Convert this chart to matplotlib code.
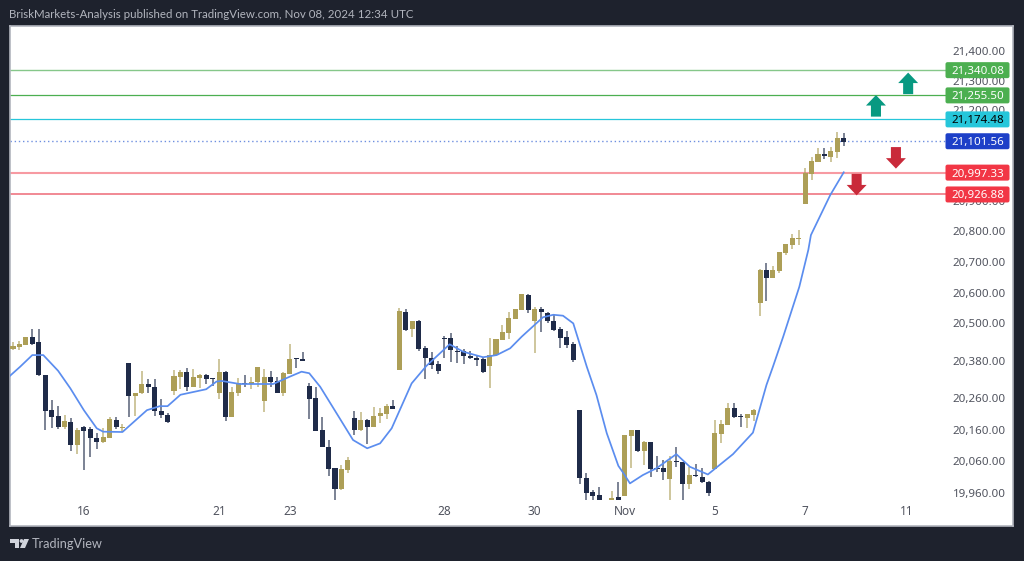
import numpy as np
import matplotlib
matplotlib.use("Agg")
import matplotlib.pyplot as plt
from matplotlib.patches import Polygon, Rectangle, FancyBboxPatch
from matplotlib.transforms import Affine2D

highs = [20446,20450,20463,20489,20489,20340,20259,20239,20211,20199,20168,20175,20170,20151,20167,20203,20203,20181,20380,20283,
20353,20326,20326,20261,20216,20355,20357,20362,20359,20344,20344,20329,20391,20352,20300,20329,20339,20333,20365,20359,
20352,20333,20349,20441,20394,20416,20313,20302,20205,20129,20038,20048,20073,20224,20221,20196,20236,20234,20245,20259,
20557,20555,20517,20519,20434,20416,20387,20467,20476,20436,20425,20419,20405,20398,20459,20458,20503,20544,20555,20603,
20603,20562,20560,20544,20535,20497,20484,20446,20226,20021,19967,19975,np.nan,19963,19994,20145,20161,20161,20125,20124,
20078,20063,20077,20105,20059,20040,20051,20039,19996,20193,20193,20248,20248,20213,20213,20230,20684,20703,20695,20741,
20766,20798,20811,21012,21049,21077,21077,21080,21131,21128]
lows = [20421,20421,20439,20438,20337,20161,20168,20164,20164,20094,20082,20032,20073,20099,20120,20135,20164,20156,20203,20208,
20279,20281,20208,20199,20185,20275,20296,20287,20300,20299,20311,20304,20262,20192,20203,20272,20302,20294,20302,20221,
20300,20282,20272,20345,20363,20385,20198,20159,20105,20013,19934,19967,20023,20145,20159,20116,20171,20183,20196,20229,
20357,20484,20465,20419,20326,20359,20344,20394,20384,20380,20376,20391,20370,20348,20297,20405,20454,20456,20523,20553,
20543,20413,20481,20508,20484,20429,20427,20381,19986,19934,19934,19934,np.nan,19935,19934,19947,20039,20089,20048,20010,
20026,19999,19934,20042,19934,19969,20010,19988,19947,20035,20120,20178,20202,20172,20168,20190,20533,20581,20657,20671,
20731,20750,20763,20895,20974,21034,21042,21034,21047,21085]
opens = [20425,20432,20439,20463,20448,20340,20226,20207,20170,20189,20114,20172,20164,20135,20122,20135,20194,20167,20378,20272,
20281,20311,20302,20222,20211,20287,20335,20350,20300,20332,20340,20329,20282,20350,20203,20281,20314,20310,20318,20257,
20333,20321,20282,20345,20394,20391,20306,20264,20160,20107,20038,19969,20033,20199,20161,20193,20171,20206,20215,20240,
20358,20544,20489,20517,20428,20394,20375,20460,20459,20419,20418,20402,20395,20391,20369,20405,20454,20477,20523,20553,
20601,20515,20555,20543,20516,20489,20463,20441,20225,20007,19960,19950,np.nan,19935,19944,19947,20143,20160,20094,20124,
20037,20038,20003,20061,20058,19986,20014,20010,19994,20035,20150,20178,20233,20206,20199,20211,20573,20681,20657,20677,
20736,20763,20782,20895,20993,21034,21058,21050,21065,21112]
closes = [20434,20441,20463,20441,20340,20224,20205,20172,20190,20114,20161,20158,20135,20122,20139,20196,20170,20172,20272,20283,
20312,20300,20222,20209,20188,20337,20350,20300,20334,20340,20328,20327,20350,20203,20284,20314,20312,20318,20365,20334,
20319,20282,20347,20393,20391,20386,20263,20159,20105,20036,19970,20034,20063,20161,20193,20171,20208,20217,20240,20231,
20548,20488,20517,20424,20395,20374,20353,20457,20421,20416,20401,20397,20389,20350,20405,20456,20479,20525,20554,20602,
20551,20555,20544,20516,20487,20461,20439,20388,20004,19958,19948,19934,np.nan,19941,19934,20145,20160,20094,20124,20035,
20034,20026,20061,20058,19986,20015,20012,19991,19957,20152,20180,20233,20204,20203,20213,20226,20682,20657,20681,20740,
20766,20785,20786,20998,21036,21059,21053,21069,21112,21099]

ma_bars = [-0.5,1.1,3,4.7,7,8.9,11,13,14,17,20.8,22.8,24,26,30,31.6,32.4,35.2,40.4,43,44.8,46,47.7,50.8,52.8,55,57,58.8,61.9,
64.2,67.8,69.9,73,75.1,77.2,79,82.3,83.9,85.4,87,89.1,90.6,92.2,94,94.8,95.8,97.8,99.9,103,105.1,107.9,111.8,114.9,117,118,
119.6,122.1,123.5,123.9,126.9,129]
ma_vals = [20337,20367,20405,20405,20354,20297,20226,20167,20156,20155,20226,20239,20239,20276,20294,20319,20321,20311,20311,
20335,20351,20346,20302,20197,20129,20102,20118,20167,20313,20370,20440,20416,20398,20405,20427,20465,20528,20536,20533,20508,
20367,20275,20151,20045,20021,19988,20015,20037,20083,20042,20017,20083,20153,20308,20367,20465,20627,20747,20795,20925,20999]

level_labels = ["21,340.08","21,255.50","21,174.48","21,101.56","20,997.33","20,926.88"]
level_marks = [21331,21249,21171,21100,20998,20927]
level_colors = ["#86C78A","#4CAF50","#26C6DA","#6E8FE0","#F79AA2","#EE6A76"]
level_widths = [1.0,0.9,0.9,1.0,1.5,1.1]
tag_colors = ["#4CAF50","#4CAF50","#26C6DA","#1E40C8","#F23645","#F23645"]
tag_text = ["white","white","black","white","white","white"]

ytick_labels = ["21,400.00","21,300.00","21,200.00","20,900.00","20,800.00","20,700.00","20,600.00","20,500.00",
                "20,380.00","20,260.00","20,160.00","20,060.00","19,960.00"]
ytick_marks = [21394,21296,21201,20906,20808,20707,20607,20509,20386,20265,20161,20061,19958]
xtick_bars = [11,32,43,67,81,95,109,123,138.8]
xtick_labels = ["16","21","23","28","30","Nov","5","7","11"]

up_arrows = [(134,21250),(139,21323)]
down_arrows = [(137.1,21011),(131,20924)]

BG = "#1E222D"
UP = "#AD9F57"
DOWN = "#1F2B49"
plt.rcParams["font.family"] = ["Noto Sans", "DejaVu Sans"]

W, H = 1024, 561
fig = plt.figure(figsize=(W/100, H/100), dpi=100, facecolor=BG)
L, R, T, B = 10, 1013, 26, 526
ax = fig.add_axes([L/W, 1-B/H, (R-L)/W, (B-T)/H], facecolor="white")
ax.set_xlim(-0.466, 155.28)
ax.set_ylim(19849.5, 21474.5)
for s in ax.spines.values():
    s.set_color("#B2B5BE")
    s.set_linewidth(1.2)
ax.tick_params(length=0)

# level lines
for i,(v,c,w) in enumerate(zip(level_marks, level_colors, level_widths)):
    ls = (0,(1,2)) if i==3 else "-"
    ax.plot([-0.466, 144.8],[v,v],color=c,lw=w,ls=ls,zorder=1)

# candles
for i,(h,l,o,c) in enumerate(zip(highs,lows,opens,closes)):
    if np.isnan(h):
        continue
    col = UP if c>=o else DOWN
    ax.plot([i,i],[l,h],color=col,lw=1.1,alpha=0.75,zorder=3,solid_capstyle="butt")
    top,bot = max(o,c),min(o,c)
    ax.add_patch(Rectangle((i-0.39,bot),0.78,max(top-bot,3.5),facecolor=col,edgecolor="none",zorder=4))

# moving average
ax.plot(ma_bars,ma_vals,color="#5B8DEF",lw=1.25,zorder=5,solid_joinstyle="round")

# arrows
hw, sw = 1.55, 0.78
def arrow(xc,tip,sgn,col):
    hh, tot = 34*sgn, 70*sgn
    pts = [(xc,tip),(xc+hw,tip-hh),(xc+sw,tip-hh),(xc+sw,tip-tot),(xc-sw,tip-tot),(xc-sw,tip-hh),(xc-hw,tip-hh)]
    ax.add_patch(Polygon(pts,closed=True,facecolor=col,edgecolor="none",zorder=6))
for x,t in up_arrows:
    arrow(x,t,1,"#089981")
for x,t in down_arrows:
    arrow(x,t,-1,"#C92A3A")

# axis ticks
ax.set_yticks(ytick_marks, ytick_labels)
ax.yaxis.tick_right()
ax.tick_params(axis="y", direction="in", pad=-5, labelsize=8.3, labelcolor="#50535E", right=False)
for t in ax.get_yticklabels():
    t.set_horizontalalignment("right")
    t.set_zorder(2)
ax.set_xticks(xtick_bars, xtick_labels)
ax.tick_params(axis="x", direction="in", pad=-15, labelsize=8.5, labelcolor="#50535E", bottom=False)
for t in ax.get_xticklabels():
    if t.get_text()=="Nov":
        t.set_fontweight("bold")

# price tags over tick labels
px = Affine2D().scale(1/W, -1/H).translate(0, 1) + fig.transFigure
for v,s,fc,tc in zip(level_marks,level_labels,tag_colors,tag_text):
    yc = T + (ax.get_ylim()[1]-v)/(ax.get_ylim()[1]-ax.get_ylim()[0])*(B-T)
    fig.add_artist(FancyBboxPatch((947,yc-6.5),61,13,boxstyle="round,pad=1.5,rounding_size=2",
                                  fc=fc,ec="none",transform=px,zorder=7))
    fig.text(977.5/W, 1-yc/H, s, ha="center", va="center_baseline", fontsize=8.3,
             color=tc, fontweight="bold", zorder=8)

# header / footer
fig.text(9/W, 1-14.5/H, "BriskMarkets-Analysis published on TradingView.com, Nov 08, 2024 12:34 UTC",
         family=["Lato","DejaVu Sans"], color="#B2B5BE", fontsize=8.25, va="center", ha="left")
fig.text(32/W, 1-544/H, "TradingView", family=["Lato","DejaVu Sans"], color="#B2B5BE", fontsize=9.2, va="center", ha="left")
logo = "#D1D4DC"
fig.add_artist(Polygon([(10,539),(19,539),(19,548),(15,548),(15,543),(10,543)],closed=True,fc=logo,ec="none",transform=px))
fig.add_artist(plt.Circle((21.5,541),1.9,fc=logo,ec="none",transform=px))
fig.add_artist(Polygon([(24,539),(29,539),(25,548),(20,548)],closed=True,fc=logo,ec="none",transform=px))

fig.savefig("out.png", dpi=100, facecolor=BG)
